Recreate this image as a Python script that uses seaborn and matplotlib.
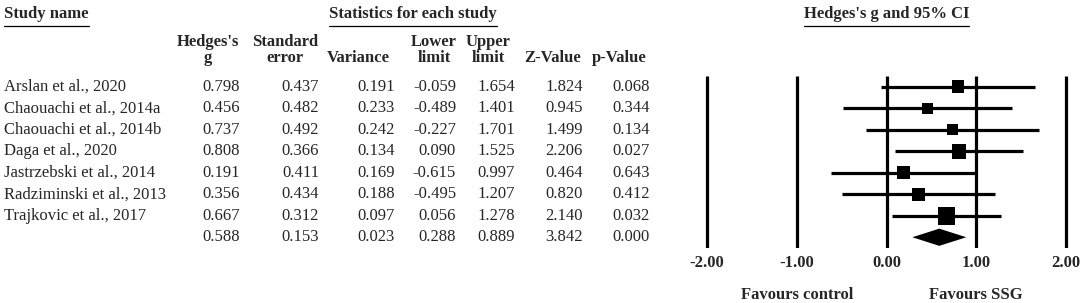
import matplotlib
matplotlib.use("Agg")
import matplotlib.pyplot as plt
import matplotlib.transforms as mtransforms
from matplotlib.lines import Line2D
import numpy as np
import pandas as pd
import seaborn as sns

studies = [
    "Arslan et al., 2020",
    "Chaouachi et al., 2014a",
    "Chaouachi et al., 2014b",
    "Daga et al., 2020",
    "Jastrzebski et al., 2014",
    "Radziminski et al., 2013",
    "Trajkovic et al., 2017",
]
hedges_g = [0.798, 0.456, 0.737, 0.808, 0.191, 0.356, 0.667]
std_err = [0.437, 0.482, 0.492, 0.366, 0.411, 0.434, 0.312]
variance = [0.191, 0.233, 0.242, 0.134, 0.169, 0.188, 0.097]
lower = [-0.059, -0.489, -0.227, 0.090, -0.615, -0.495, 0.056]
upper = [1.654, 1.401, 1.701, 1.525, 0.997, 1.207, 1.278]
z_value = [1.824, 0.945, 1.499, 2.206, 0.464, 0.820, 2.140]
p_value = [0.068, 0.344, 0.134, 0.027, 0.643, 0.412, 0.032]

# pooled estimate (last row)
pooled = [0.588, 0.153, 0.023, 0.288, 0.889, 3.842, 0.000]

col_headers = ["Hedges's\ng", "Standard\nerror", "Variance", "Lower\nlimit",
               "Upper\nlimit", "Z-Value", "p-Value"]
x_ticks = [-2.0, -1.0, 0.0, 1.0, 2.0]
favours = ["Favours control", "Favours SSG"]

W, H = 1084, 303
FS = 12

sns.set_style("white")
plt.rcParams["font.family"] = ["Liberation Serif", "DejaVu Serif"]

df = pd.DataFrame({
    "study": studies, "g": hedges_g, "se": std_err, "var": variance,
    "lo": lower, "hi": upper, "z": z_value, "p": p_value,
})
df["row"] = np.arange(len(df))
df["weight"] = 1 / df["var"]

fig = plt.figure(figsize=(W / 100, H / 100), dpi=100)

# forest axes: -2 at px 707, +2 at px 1066
unit = (1066 - 707) / 4
pad = 0.15
ax = fig.add_axes([(707 - pad * unit) / W, 1 - 248 / H, (4 + 2 * pad) * unit / W, 172 / H])
ax.set_xlim(-2 - pad, 2 + pad)
ax.set_ylim(len(df) + 0.5, -0.5)

ax.vlines(x_ticks, -0.5, len(df) + 0.5, color="black", lw=2.3)
ax.hlines(df["row"], df["lo"], df["hi"], color="black", lw=2.3)
sns.scatterplot(data=df, x="g", y="row", size="weight", sizes=(0, 160),
                size_norm=(0, df["weight"].max()), marker="s", color="black",
                linewidth=0, legend=False, ax=ax, zorder=3)

# pooled diamond
prow = len(df)
ax.fill([pooled[3], pooled[0], pooled[4], pooled[0]],
        [prow, prow - 0.4, prow, prow + 0.4], color="black", lw=0)

for s in ax.spines.values():
    s.set_visible(False)
ax.set_yticks([])
ax.set_xticks(x_ticks)
ax.set_xticklabels([f"{t:.2f}" for t in x_ticks], fontsize=FS, fontweight="bold")
ax.tick_params(axis="x", length=0, pad=5)
ax.set_xlabel("")
ax.set_ylabel("")

tx = mtransforms.blended_transform_factory(ax.transData, fig.transFigure)
ax.text(-1, 1 - 295 / H, favours[0], transform=tx, ha="center", va="center",
        fontsize=FS, fontweight="bold")
ax.text(1, 1 - 295 / H, favours[1], transform=tx, ha="center", va="center",
        fontsize=FS, fontweight="bold")

# table on the left
ty = mtransforms.blended_transform_factory(fig.transFigure, ax.transData)
col_right = [240, 319, 395, 456, 515, 583, 650]
col_center = [208, 285, 358, 434, 488, 553, 619]
cols = ["g", "se", "var", "lo", "hi", "z", "p"]

for _, r in df.iterrows():
    fig.text(4 / W, r["row"], r["study"], transform=ty, ha="left", va="center", fontsize=FS)
    for c, xr in zip(cols, col_right):
        fig.text(xr / W, r["row"], f"{r[c]:.3f}", transform=ty, ha="right",
                 va="center", fontsize=FS)
for v, xr in zip(pooled, col_right):
    fig.text(xr / W, prow, f"{v:.3f}", transform=ty, ha="right", va="center", fontsize=FS)

for h, xc in zip(col_headers, col_center):
    fig.text(xc / W, 1 - 66 / H, h, ha="center", va="bottom", multialignment="center",
             fontsize=FS, fontweight="bold", linespacing=1.0)

# titles with underline
titles = [
    fig.text(4 / W, 1 - 14 / H, "Study name", ha="left", va="center",
             fontsize=FS, fontweight="bold"),
    fig.text(413 / W, 1 - 14 / H, "Statistics for each study", ha="center",
             va="center", fontsize=FS, fontweight="bold"),
]
titles.append(ax.text(0, 1 - 14 / H, "Hedges's g and 95% CI", transform=tx,
                      ha="center", va="center", fontsize=FS, fontweight="bold"))

fig.canvas.draw()
renderer = fig.canvas.get_renderer()
for t in titles:
    bb = t.get_window_extent(renderer)
    yline = 1 - 26 / H
    fig.add_artist(Line2D([bb.x0 / W, bb.x1 / W], [yline, yline],
                          transform=fig.transFigure, color="black", lw=0.9))

fig.savefig("out.png", dpi=100)
